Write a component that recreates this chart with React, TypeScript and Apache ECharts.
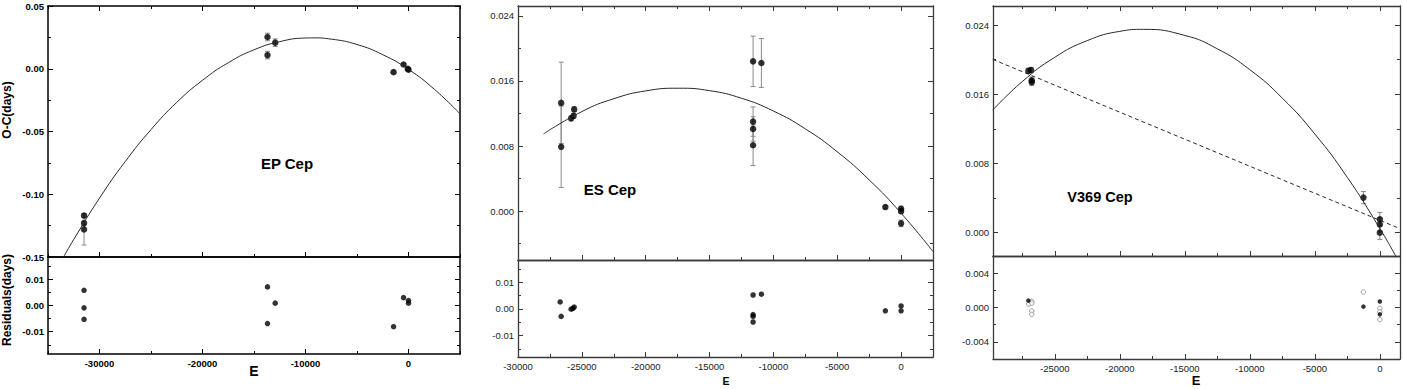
import React, { useEffect, useRef } from "react";
import * as echarts from "echarts";

// ---------------- EP Cep ----------------
const epE = [-31500, -31500, -31500, -13690, -13690, -12940, -1450, -480, -70, 0];
const epOC = [-0.117, -0.123, -0.128, 0.0253, 0.0109, 0.0208, -0.0027, 0.0034, 0.0, -0.0008];
const epErr = [0.0015, 0.0015, 0.0125, 0.003, 0.003, 0.003, 0.001, 0.001, 0.001, 0.001];
const epFitE = [-33487, -32500, -30000, -27500, -25000, -22500, -20000, -17500, -15000, -12500, -10000, -9300, -7500, -5000, -2500, 0, 2500, 5000];
const epFitOC = [-0.15, -0.136, -0.1031, -0.0739, -0.0485, -0.0268, -0.0092, 0.0048, 0.0151, 0.0216, 0.0245, 0.0246, 0.0236, 0.0193, 0.0112, -0.0005, -0.0163, -0.0359];
const epResE = [-31500, -31500, -31500, -13690, -13690, -12940, -1450, -480, 0, 0];
const epRes = [0.0058, -0.0009, -0.0053, 0.0071, -0.0069, 0.0009, -0.0081, 0.003, 0.0019, 0.0009];

// ---------------- ES Cep ----------------
const esE = [-26620, -26620, -25840, -25650, -25600, -11590, -11590, -11590, -11590, -10940, -1230, 0, 0, 0];
const esOC = [0.0133, 0.0079, 0.0114, 0.0117, 0.0125, 0.0184, 0.011, 0.0101, 0.0081, 0.0182, 0.0005, 0.0003, 0.0, -0.0015];
const esErr = [0.005, 0.005, 0.0003, 0.0003, 0.0003, 0.0031, 0.0018, 0.0015, 0.0025, 0.003, 0.0002, 0.0003, 0.0003, 0.0004];
const esFitE = [-28000, -25000, -22500, -20000, -17450, -15000, -12500, -10000, -7500, -5000, -2500, 0, 2500];
const esFitOC = [0.00949, 0.01223, 0.01381, 0.01477, 0.0151, 0.0148, 0.01387, 0.0123, 0.01011, 0.00729, 0.00384, -0.00025, -0.00496];
const esResE = [-26700, -26620, -25840, -25700, -25600, -11590, -11590, -11590, -11590, -10940, -1230, 0, 0];
const esRes = [0.0026, -0.0028, -0.0001, 0.0002, 0.0007, 0.0052, -0.0021, -0.0028, -0.0049, 0.0055, -0.0007, 0.0011, -0.0007];

// ---------------- V369 Cep ----------------
const vE = [-27030, -26820, -26770, -26770, -1260, 0, 0, 0];
const vOC = [0.0187, 0.0188, 0.0176, 0.0174, 0.00405, 0.00154, 0.00096, 0.0];
const vErr = [0.0003, 0.0003, 0.0004, 0.0004, 0.0007, 0.0008, 0.0008, 0.0008];
const vFitE = [-29770, -27500, -25000, -22500, -20000, -18185, -15000, -12500, -10000, -7500, -5000, -2500, 0, 1250];
const vFitOC = [0.01416, 0.01746, 0.02027, 0.0222, 0.02327, 0.0235, 0.0228, 0.02125, 0.01884, 0.01555, 0.0114, 0.00638, 0.00048, -0.00279];
const vLinE = [-29770, 1550];
const vLinOC = [0.02003, 0.00046];
const vResE = [-27030, -1260, 0, 0];
const vRes = [0.0008, 0.0001, 0.0007, -0.0008];
const vResOpenE = [-27000, -26770, -26770, -26770, -26770, -1260, 0, 0, 0];
const vResOpen = [0.0004, 0.0007, 0.0005, -0.0004, -0.0008, 0.0018, -0.0001, -0.0005, -0.0014];

// ---------------- axis ticks ----------------
const p1X = { min: -35000, max: 5000, majors: [-30000, -20000, -10000, 0], minors: [-35000, -25000, -15000, -5000, 5000], dec: -1 };
const p1UY = { min: -0.15, max: 0.05, majors: [-0.15, -0.1, -0.05, 0, 0.05], minors: [-0.125, -0.075, -0.025, 0.025], dec: 2 };
const p1LY = { min: -0.0185, max: 0.0185, majors: [-0.01, 0, 0.01], minors: [-0.015, -0.005, 0.005, 0.015], dec: 2 };
const p2X = { min: -30000, max: 2500, majors: [-30000, -25000, -20000, -15000, -10000, -5000, 0], minors: [-27500, -22500, -17500, -12500, -7500, -2500, 2500], dec: -1 };
const p2UY = { min: -0.006, max: 0.0252, majors: [0, 0.008, 0.016, 0.024], minors: [-0.004, 0.004, 0.012, 0.02], dec: 3 };
const p2LY = { min: -0.018, max: 0.0183, majors: [-0.01, 0, 0.01], minors: [-0.015, -0.005, 0.005, 0.015], dec: 2 };
const p3X = { min: -29750, max: 1550, majors: [-25000, -20000, -15000, -10000, -5000, 0], minors: [-27500, -22500, -17500, -12500, -7500, -2500], dec: -1 };
const p3UY = { min: -0.0027, max: 0.0262, majors: [0, 0.008, 0.016, 0.024], minors: [0.004, 0.012, 0.02], dec: 3 };
const p3LY = { min: -0.006, max: 0.006, majors: [-0.004, 0, 0.004], minors: [-0.006, -0.002, 0.002, 0.006], dec: 3 };

const FONT = '"Liberation Sans", Arial, sans-serif';

type Spec = { min: number; max: number; majors: number[]; minors: number[]; dec: number };
type Style = { axis: string; label: string; bold: boolean; lw: number };

const st1: Style = { axis: "#000", label: "#000", bold: true, lw: 1.5 };
const st2: Style = { axis: "#3a3a3a", label: "#222", bold: false, lw: 1.3 };

function buildOption() {
  const grids: any[] = [];
  const xAxes: any[] = [];
  const yAxes: any[] = [];
  const series: any[] = [];

  const mkAxis = (gridIndex: number, spec: Spec, pos: string, st: Style, o: { line: boolean; ticks: boolean; labels: boolean; minor: boolean; margin?: number }) => ({
    type: "value",
    gridIndex,
    min: spec.min,
    max: spec.max,
    position: pos,
    axisLine: { show: o.line, onZero: false, lineStyle: { color: st.axis, width: st.lw } },
    axisTick: {
      show: o.ticks,
      inside: true,
      length: o.minor ? 3 : 5,
      customValues: o.minor ? spec.minors : spec.majors,
      lineStyle: { color: st.axis, width: 1 },
    },
    axisLabel: o.labels
      ? {
          show: true,
          customValues: spec.majors,
          formatter: (v: number) => (spec.dec < 0 ? String(Math.round(v)) : v.toFixed(spec.dec)),
          margin: o.margin ?? 4,
          color: st.label,
          fontSize: 9.5,
          fontWeight: st.bold ? "bold" : "normal",
          fontFamily: FONT,
        }
      : { show: false },
    splitLine: { show: false },
    minorTick: { show: false },
    minorSplitLine: { show: false },
  });

  const addGrid = (rect: number[], xs: Spec, ys: Spec, st: Style, xLabels: boolean, topTicks: boolean) => {
    const g = grids.length;
    grids.push({ left: rect[0], top: rect[1], width: rect[2], height: rect[3], containLabel: false, outerBoundsMode: "none", show: false });
    const mx = xAxes.length;
    xAxes.push(mkAxis(g, xs, "bottom", st, { line: true, ticks: true, labels: xLabels, minor: false, margin: 4 }));
    xAxes.push(mkAxis(g, xs, "bottom", st, { line: false, ticks: true, labels: false, minor: true }));
    xAxes.push(mkAxis(g, xs, "top", st, { line: true, ticks: topTicks, labels: false, minor: false }));
    if (topTicks) xAxes.push(mkAxis(g, xs, "top", st, { line: false, ticks: true, labels: false, minor: true }));
    const my = yAxes.length;
    yAxes.push(mkAxis(g, ys, "left", st, { line: true, ticks: true, labels: true, minor: false, margin: 4 }));
    yAxes.push(mkAxis(g, ys, "left", st, { line: false, ticks: true, labels: false, minor: true }));
    yAxes.push(mkAxis(g, ys, "right", st, { line: true, ticks: true, labels: false, minor: false }));
    yAxes.push(mkAxis(g, ys, "right", st, { line: false, ticks: true, labels: false, minor: true }));
    return { x: mx, y: my };
  };

  const pairs = (a: number[], b: number[]) => a.map((v, i) => [v, b[i]]);
  const triples = (a: number[], b: number[], c: number[]) => a.map((v, i) => [v, b[i], c[i]]);

  const errSeries = (ax: { x: number; y: number }, data: number[][]) => ({
    type: "custom",
    xAxisIndex: ax.x,
    yAxisIndex: ax.y,
    data,
    encode: { x: 0, y: 1 },
    silent: true,
    renderItem: (_p: any, api: any) => {
      const x = api.value(0);
      const y = api.value(1);
      const e = api.value(2);
      const t = api.coord([x, y + e]);
      const b = api.coord([x, y - e]);
      const hw = 2.5;
      const style = { stroke: "#8a8a8a", lineWidth: 1 };
      return {
        type: "group",
        children: [
          { type: "line", shape: { x1: t[0], y1: t[1], x2: b[0], y2: b[1] }, style },
          { type: "line", shape: { x1: t[0] - hw, y1: t[1], x2: t[0] + hw, y2: t[1] }, style },
          { type: "line", shape: { x1: b[0] - hw, y1: b[1], x2: b[0] + hw, y2: b[1] }, style },
        ],
      };
    },
  });
  const fitSeries = (ax: { x: number; y: number }, data: number[][], dashed = false) => ({
    type: "line",
    xAxisIndex: ax.x,
    yAxisIndex: ax.y,
    data,
    smooth: !dashed,
    showSymbol: false,
    symbol: "none",
    clip: true,
    silent: true,
    lineStyle: { color: "#2a2a2a", width: 1, type: dashed ? [4, 3] : "solid" },
  });
  const dotSeries = (ax: { x: number; y: number }, data: number[][], size: number, open = false) => ({
    type: "scatter",
    xAxisIndex: ax.x,
    yAxisIndex: ax.y,
    data,
    symbol: "circle",
    symbolSize: size,
    silent: true,
    itemStyle: open ? { color: "#fff", borderColor: "#8a8a8a", borderWidth: 1 } : { color: "#000" },
  });

  // Panel 1
  const a1u = addGrid([48, 6, 412, 251], p1X, p1UY, st1, false, true);
  const a1l = addGrid([48, 257, 412, 97], p1X, p1LY, st1, true, false);
  // Panel 2
  const a2u = addGrid([518, 6, 415, 254], p2X, p2UY, st2, false, true);
  const a2l = addGrid([518, 260, 415, 97], p2X, p2LY, st2, true, false);
  // Panel 3
  const a3u = addGrid([993, 6, 407, 250], p3X, p3UY, st2, false, true);
  const a3l = addGrid([993, 256, 407, 103], p3X, p3LY, st2, true, false);

  series.push(fitSeries(a1u, pairs(epFitE, epFitOC)));
  series.push(errSeries(a1u, triples(epE, epOC, epErr)));
  series.push(dotSeries(a1u, pairs(epE, epOC), 6.5));
  series.push(dotSeries(a1l, pairs(epResE, epRes), 5.5));

  series.push(fitSeries(a2u, pairs(esFitE, esFitOC)));
  series.push(errSeries(a2u, triples(esE, esOC, esErr)));
  series.push(dotSeries(a2u, pairs(esE, esOC), 6.5));
  series.push(dotSeries(a2l, pairs(esResE, esRes), 5.5));

  series.push(fitSeries(a3u, pairs(vFitE, vFitOC)));
  series.push(fitSeries(a3u, pairs(vLinE, vLinOC), true));
  series.push(errSeries(a3u, triples(vE, vOC, vErr)));
  series.push(dotSeries(a3u, pairs(vE, vOC), 6.5));
  series.push(dotSeries(a3l, pairs(vResOpenE, vResOpen), 4.5, true));
  series.push(dotSeries(a3l, pairs(vResE, vRes), 4.5));

  const txt = (text: string, x: number, y: number, size: number, rot = 0) => ({
    type: "text",
    x,
    y,
    rotation: rot,
    silent: true,
    style: {
      text,
      fill: "#000",
      fontSize: size,
      fontWeight: "bold",
      fontFamily: FONT,
      textAlign: "center",
      textVerticalAlign: "middle",
      verticalAlign: "middle",
    },
  });

  const graphic = [
    txt("EP Cep", 287, 163, 15),
    txt("ES Cep", 610, 189, 15),
    txt("V369 Cep", 1100, 197, 14.5),
    txt("O-C(days)", 7, 110, 12, Math.PI / 2),
    txt("Residuals(days)", 7, 300, 12, Math.PI / 2),
    txt("E", 254, 371, 14),
    txt("E", 726, 381, 10.5),
    txt("E", 1196, 380, 13),
  ];

  return {
    animation: false,
    backgroundColor: "#ffffff",
    grid: grids,
    xAxis: xAxes,
    yAxis: yAxes,
    series,
    graphic,
  };
}

export default function App() {
  const ref = useRef<HTMLDivElement>(null);
  useEffect(() => {
    document.body.style.margin = "0";
    if (!ref.current) return;
    const chart = echarts.init(ref.current, undefined, { renderer: "svg" });
    chart.setOption(buildOption() as any);
    return () => chart.dispose();
  }, []);
  return <div ref={ref} style={{ width: 1403, height: 389, background: "#fff" }} />;
}
